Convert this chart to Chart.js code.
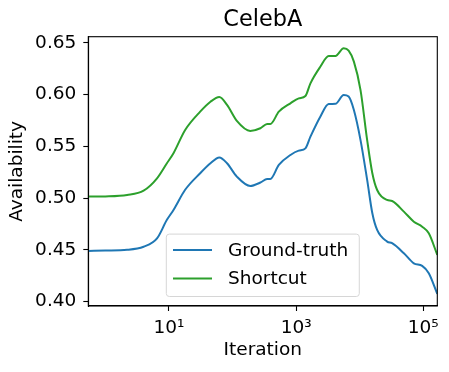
<!DOCTYPE html>
<html>
<head>
<meta charset="utf-8">
<script src="https://cdn.jsdelivr.net/npm/chart.js@4/dist/chart.umd.min.js"></script>
<style>
html,body{margin:0;padding:0;background:#fff;}
#wrap{width:449px;height:372px;position:relative;}
</style>
</head>
<body>
<div id="wrap"><canvas id="c" width="449" height="372"></canvas></div>
<script>
const chartTitle = "CelebA";
const xAxisLabel = "Iteration";
const yAxisLabel = "Availability";
const seriesNames = ["Ground-truth", "Shortcut"];
const iterations = [0.54, 1, 2.2, 4, 6.5, 9.3, 11.8, 18, 31, 45, 62, 82, 117, 190, 274, 350, 393, 535, 815, 1100, 1400, 1680, 2400, 3250, 4150, 5600, 6700, 8100, 10300, 13100, 15800, 18800, 27000, 32300, 49500, 71000, 96000, 122000, 166000];
const groundTruth = [0.4490, 0.4493, 0.4500, 0.4530, 0.4610, 0.4790, 0.4885, 0.5080, 0.5240, 0.5336, 0.5392, 0.5336, 0.5207, 0.5117, 0.5150, 0.5184, 0.5184, 0.5320, 0.5416, 0.5458, 0.5480, 0.5593, 0.5786, 0.5908, 0.5910, 0.5995, 0.5980, 0.5850, 0.5560, 0.5175, 0.4853, 0.4692, 0.4580, 0.4564, 0.4467, 0.4370, 0.4345, 0.4274, 0.4074];
const shortcut = [0.5014, 0.5016, 0.5030, 0.5071, 0.5190, 0.5336, 0.5433, 0.5657, 0.5834, 0.5930, 0.5975, 0.5899, 0.5745, 0.5648, 0.5674, 0.5715, 0.5715, 0.5834, 0.5915, 0.5963, 0.5985, 0.6108, 0.6268, 0.6372, 0.6372, 0.6446, 0.6423, 0.6317, 0.6043, 0.5560, 0.5240, 0.5078, 0.4982, 0.4972, 0.4869, 0.4772, 0.4724, 0.4660, 0.4451];
const xTickValues = [10, 1000, 100000];
const xTickLabels = ["10\u00B9", "10\u00B3", "10\u2075"];
const yTickValues = [0.40, 0.45, 0.50, 0.55, 0.60, 0.65];
const colors = ["#1f77b4", "#2ca02c"];

const FONT = "'DejaVu Sans', sans-serif";
const FS = 18.5;

function pts(ys){ return iterations.map((x,i)=>({x:x, y:ys[i]})); }

const framePlugin = {
  id:'frame',
  afterDraw(chart){
    const {ctx, chartArea:a} = chart;
    ctx.save();
    ctx.strokeStyle = '#000';
    ctx.lineWidth = 1.1;
    ctx.strokeRect(a.left, a.top, a.right-a.left, a.bottom-a.top);
    const cx = (a.left + a.right)/2;
    // title centred over the axes
    ctx.fillStyle = '#000';
    ctx.font = "22.4px " + FONT;
    ctx.textAlign = 'center';
    ctx.textBaseline = 'middle';
    ctx.fillText(chartTitle, cx, 19.7);
    // legend (matplotlib style, lower center inside axes)
    ctx.font = FS + "px " + FONT;
    const tw = Math.max(...seriesNames.map(s=>ctx.measureText(s).width));
    const boxW = 6.7 + 39 + 16 + tw + 11;
    const boxH = 62.4;
    const bx = cx - boxW/2;
    const by = a.bottom - 9.5 - boxH;
    const r = 3;
    ctx.beginPath();
    ctx.moveTo(bx+r, by);
    ctx.lineTo(bx+boxW-r, by);
    ctx.quadraticCurveTo(bx+boxW, by, bx+boxW, by+r);
    ctx.lineTo(bx+boxW, by+boxH-r);
    ctx.quadraticCurveTo(bx+boxW, by+boxH, bx+boxW-r, by+boxH);
    ctx.lineTo(bx+r, by+boxH);
    ctx.quadraticCurveTo(bx, by+boxH, bx, by+boxH-r);
    ctx.lineTo(bx, by+r);
    ctx.quadraticCurveTo(bx, by, bx+r, by);
    ctx.closePath();
    ctx.fillStyle = 'rgba(255,255,255,0.8)';
    ctx.fill();
    ctx.strokeStyle = '#d6d6d6';
    ctx.lineWidth = 1;
    ctx.stroke();
    seriesNames.forEach((name,i)=>{
      const ly = by + 16 + i*28.4;
      ctx.strokeStyle = colors[i];
      ctx.lineWidth = 2;
      ctx.beginPath();
      ctx.moveTo(bx+6.7, ly);
      ctx.lineTo(bx+6.7+39, ly);
      ctx.stroke();
      ctx.fillStyle = '#000';
      ctx.textBaseline = 'middle';
      ctx.textAlign = 'left';
      ctx.fillText(name, bx+6.7+39+16, ly+1);
    });
    ctx.restore();
  }
};

new Chart(document.getElementById('c'), {
  type:'line',
  data:{
    datasets:[
      {label:seriesNames[0], data:pts(groundTruth), borderColor:colors[0], backgroundColor:colors[0], borderWidth:2, pointRadius:0, cubicInterpolationMode:'monotone', fill:false},
      {label:seriesNames[1], data:pts(shortcut), borderColor:colors[1], backgroundColor:colors[1], borderWidth:2, pointRadius:0, cubicInterpolationMode:'monotone', fill:false}
    ]
  },
  options:{
    responsive:false,
    animation:false,
    devicePixelRatio:1,
    layout:{padding:{left:0, right:11.7, top:36.7, bottom:0}},
    plugins:{
      legend:{display:false},
      tooltip:{enabled:false},
      title:{display:false}
    },
    scales:{
      x:{
        type:'logarithmic',
        min:0.54, max:166000,
        afterBuildTicks(s){ s.ticks = xTickValues.map(v=>({value:v})); },
        afterFit(s){ s.height = 66; },
        ticks:{
          autoSkip:false, maxRotation:0, color:'#000', padding:6,
          font:{family:FONT, size:FS},
          callback(v){ const i = xTickValues.indexOf(v); return i>=0 ? xTickLabels[i] : ''; }
        },
        grid:{display:true, drawOnChartArea:false, drawTicks:true, tickLength:5, color:'#000', tickWidth:1.1},
        border:{display:true, color:'#000', width:1.1},
        title:{display:true, text:xAxisLabel, color:'#000', font:{family:FONT, size:FS, lineHeight:1.2}, padding:{top:0, bottom:10.9}}
      },
      y:{
        type:'linear',
        min:0.3958, max:0.6558,
        afterBuildTicks(s){ s.ticks = yTickValues.map(v=>({value:v})); },
        afterFit(s){ s.width = 88.3; },
        ticks:{
          color:'#000', padding:7,
          font:{family:FONT, size:FS},
          callback(v){ return Number(v).toFixed(2); }
        },
        grid:{display:true, drawOnChartArea:false, drawTicks:true, tickLength:5, color:'#000', tickWidth:1.1},
        border:{display:true, color:'#000', width:1.1},
        title:{display:true, text:yAxisLabel, color:'#000', font:{family:FONT, size:FS, lineHeight:1.2}, padding:{top:5.9, bottom:0}}
      }
    }
  },
  plugins:[framePlugin]
});
</script>
</body>
</html>
